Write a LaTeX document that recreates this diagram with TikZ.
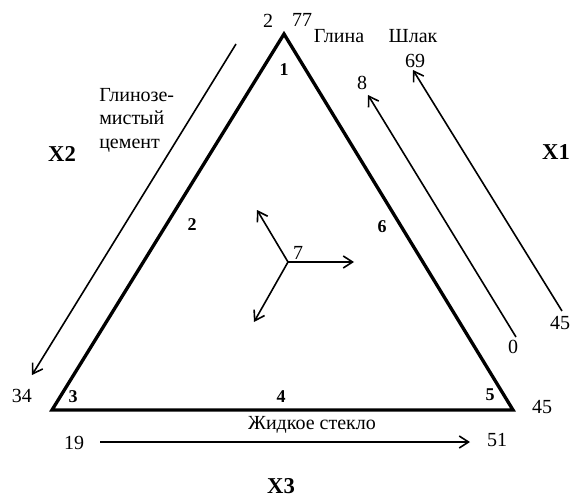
\documentclass[tikz,border=0pt]{standalone}
\usepackage{fontspec}
\setmainfont{Liberation Serif}
\usetikzlibrary{arrows.meta, positioning}

\begin{document}
\begin{tikzpicture}[
  x=0.75pt, y=-0.75pt,
  side/.style={line width=2.5pt, line join=miter},
  axis/.style={-{Straight Barb[length=7pt, width=9pt, line width=1.2pt]}, line width=1.2pt},
  val/.style={font=\fontsize{15}{17.6}\selectfont, inner sep=0pt},
  corner/.style={font=\fontsize{13.5}{15}\selectfont\bfseries, inner sep=0pt},
  xlab/.style={font=\fontsize{17}{19}\selectfont\bfseries, inner sep=0pt}
]
\useasboundingbox (0,0) rectangle (570,499);

% triangle corners
\coordinate (top) at (284,34);
\coordinate (left) at (52,410);
\coordinate (right) at (513,410);
\draw[side] (top) -- (left) -- (right) -- cycle;

% corner and side numbers
\node[corner] (n1) at (284,70) {1};
\node[corner] (n2) at (192,225) {2};
\node[corner] (n3) at (73,397) {3};
\node[corner] (n4) at (281,397) {4};
\node[corner] (n5) at (490,395) {5};
\node[corner] (n6) at (382,227) {6};

% centre point 7
\coordinate (c7) at (288,262);
\coordinate (c7r) at (354,262);
\coordinate (c7u) at (257,210);
\coordinate (c7d) at (254,322);
\node[val] (n7) at (298,253) {7};
\draw[axis] (c7) -- (c7r);
\draw[axis] (c7) -- (c7u);
\draw[axis] (c7) -- (c7d);

% top labels
\node[val] (v2) at (268,21) {2};
\node[val] (v77) at (302,20) {77};
\node[val] (clay) at (339,36) {Глина};
\node[val] (slag) at (413,36) {Шлак};

% right axis X1
\node[val] (v69) at (415,61) {69};
\node[val] (v8) at (362,83) {8};
\node[val] (v45a) at (560,323) {45};
\node[val] (v0) at (513,347) {0};
\coordinate (x1at) at (562,311);
\coordinate (x1ah) at (413,70);
\coordinate (x1bt) at (516,337);
\coordinate (x1bh) at (368,95);
\draw[axis] (x1at) -- (x1ah);
\draw[axis] (x1bt) -- (x1bh);
\node[xlab] (x1) at (556,152) {X1};

% left axis X2
\coordinate (x2t) at (236,44);
\coordinate (x2h) at (32,375);
\draw[axis] (x2t) -- (x2h);
\node[xlab] (x2) at (62,154) {X2};
\node[val, anchor=west, align=left] (cement) at (99,120) {Глинозе-\\мистый\\цемент};
\node[val] (v34) at (22,396) {34};

% bottom axis X3
\node[val] (v45b) at (542,407) {45};
\node[val] (glass) at (312,425) {Жидкое стекло};
\node[val] (v19) at (74,443) {19};
\node[val] (v51) at (497,440) {51};
\coordinate (x3t) at (100,442);
\coordinate (x3h) at (470,442);
\draw[axis] (x3t) -- (x3h);
\node[xlab] (x3) at (281,486) {X3};

\end{tikzpicture}
\end{document}
